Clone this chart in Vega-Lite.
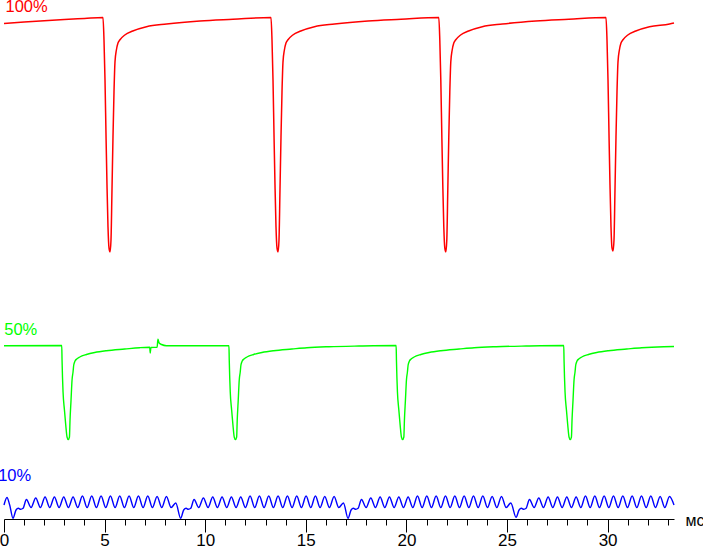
{
  "$schema": "https://vega.github.io/schema/vega-lite/v6.json",
  "width": 670,
  "height": 519,
  "autosize": {"type": "none"},
  "padding": {"left": 4, "top": 0, "right": 29, "bottom": 28},
  "background": "white",
  "config": {"view": {"stroke": null}},
  "resolve": {"axis": {"x": "independent"}},
  "datasets": {
    "red": [
      {"t":0,"v":495.5},{"t":1,"v":497},{"t":2,"v":498.3},{"t":3,"v":499.5},{"t":4,"v":500.5},{"t":4.92,"v":501.5},
      {"t":4.97,"v":479},{"t":5.02,"v":439},{"t":5.07,"v":384},{"t":5.119,"v":334},{"t":5.169,"v":292},{"t":5.218,"v":271},{"t":5.268,"v":267},{"t":5.318,"v":279},{"t":5.367,"v":329},{"t":5.417,"v":382},{"t":5.467,"v":427},{"t":5.516,"v":457},{"t":5.586,"v":469},{"t":5.665,"v":476},{"t":5.754,"v":479},{"t":6.003,"v":484},{"t":6.4,"v":488},{"t":7.08,"v":492.3},{"t":8.08,"v":495},{"t":9.74,"v":498},{"t":11.38,"v":499.7},{"t":13.27,"v":501.5},
      {"t":13.32,"v":479},{"t":13.37,"v":439},{"t":13.42,"v":384},{"t":13.469,"v":334},{"t":13.519,"v":292},{"t":13.568,"v":271},{"t":13.618,"v":267},{"t":13.668,"v":279},{"t":13.717,"v":329},{"t":13.767,"v":382},{"t":13.817,"v":427},{"t":13.866,"v":457},{"t":13.936,"v":469},{"t":14.015,"v":476},{"t":14.104,"v":479},{"t":14.353,"v":484},{"t":14.75,"v":488},{"t":15.43,"v":492.3},{"t":16.43,"v":495},{"t":18.09,"v":498},{"t":19.73,"v":499.7},{"t":21.61,"v":501.5},
      {"t":21.66,"v":479},{"t":21.71,"v":439},{"t":21.76,"v":384},{"t":21.809,"v":334},{"t":21.859,"v":292},{"t":21.908,"v":271},{"t":21.958,"v":267},{"t":22.008,"v":279},{"t":22.057,"v":329},{"t":22.107,"v":382},{"t":22.157,"v":427},{"t":22.206,"v":457},{"t":22.276,"v":469},{"t":22.355,"v":476},{"t":22.444,"v":479},{"t":22.693,"v":484},{"t":23.09,"v":488},{"t":23.77,"v":492.3},{"t":24.77,"v":495},{"t":26.43,"v":498},{"t":28.07,"v":499.7},{"t":29.92,"v":501.5},
      {"t":29.97,"v":479},{"t":30.02,"v":439},{"t":30.07,"v":384},{"t":30.119,"v":334},{"t":30.169,"v":292},{"t":30.218,"v":271},{"t":30.268,"v":268},{"t":30.318,"v":279},{"t":30.367,"v":329},{"t":30.417,"v":382},{"t":30.467,"v":427},{"t":30.516,"v":457},{"t":30.586,"v":469},{"t":30.665,"v":476},{"t":30.754,"v":479},{"t":31.003,"v":484},{"t":31.4,"v":488},{"t":32.08,"v":492.3},{"t":33.08,"v":495},{"t":33.3,"v":496}
    ],
    "green": [
      {"t":0,"v":173.3},{"t":2.87,"v":173.5},
      {"t":2.885,"v":159},{"t":2.935,"v":127},{"t":3.004,"v":109},{"t":3.069,"v":94},{"t":3.133,"v":82},{"t":3.193,"v":79.5},{"t":3.253,"v":82},{"t":3.282,"v":99},{"t":3.332,"v":119},{"t":3.382,"v":139},{"t":3.431,"v":147},{"t":3.466,"v":154},{"t":3.531,"v":158},{"t":3.615,"v":160},{"t":3.764,"v":162},{"t":4.097,"v":164.5},{"t":4.509,"v":166.5},{"t":5.091,"v":168.3},{"t":6.0,"v":170},{"t":6.745,"v":171.3},{"t":7.24,"v":171.7},{"t":7.27,"v":166},{"t":7.3,"v":171.5},{"t":7.61,"v":171.8},{"t":7.65,"v":179.7},{"t":7.71,"v":176},{"t":7.83,"v":174.5},{"t":8.07,"v":173.3},{"t":11.18,"v":173.3},
      {"t":11.195,"v":159},{"t":11.245,"v":127},{"t":11.314,"v":109},{"t":11.379,"v":94},{"t":11.443,"v":82},{"t":11.503,"v":79.5},{"t":11.563,"v":82},{"t":11.592,"v":99},{"t":11.642,"v":119},{"t":11.692,"v":139},{"t":11.741,"v":147},{"t":11.776,"v":154},{"t":11.841,"v":158},{"t":11.925,"v":160},{"t":12.074,"v":162},{"t":12.407,"v":164.5},{"t":12.819,"v":166.5},{"t":13.401,"v":168.3},{"t":14.31,"v":170},{"t":15.055,"v":171.3},{"t":16.15,"v":172.3},{"t":17.64,"v":173},{"t":19.49,"v":173.5},
      {"t":19.505,"v":159},{"t":19.555,"v":127},{"t":19.624,"v":109},{"t":19.689,"v":94},{"t":19.753,"v":82},{"t":19.813,"v":79.5},{"t":19.873,"v":82},{"t":19.902,"v":99},{"t":19.952,"v":119},{"t":20.002,"v":139},{"t":20.051,"v":147},{"t":20.086,"v":154},{"t":20.151,"v":158},{"t":20.235,"v":160},{"t":20.384,"v":162},{"t":20.717,"v":164.5},{"t":21.129,"v":166.5},{"t":21.711,"v":168.3},{"t":22.62,"v":170},{"t":23.365,"v":171.3},{"t":24.46,"v":172.3},{"t":25.95,"v":173},{"t":27.82,"v":173.5},
      {"t":27.835,"v":159},{"t":27.885,"v":127},{"t":27.954,"v":109},{"t":28.019,"v":94},{"t":28.083,"v":82},{"t":28.143,"v":79.5},{"t":28.203,"v":82},{"t":28.232,"v":99},{"t":28.282,"v":119},{"t":28.332,"v":139},{"t":28.381,"v":147},{"t":28.416,"v":154},{"t":28.481,"v":158},{"t":28.565,"v":160},{"t":28.714,"v":162},{"t":29.047,"v":164.5},{"t":29.459,"v":166.5},{"t":30.041,"v":168.3},{"t":30.95,"v":170},{"t":31.695,"v":171.3},{"t":32.79,"v":172.3},{"t":33.3,"v":172.5}
    ],
    "blue": [
      {"t":0,"v":14},{"t":0.149,"v":21.5},{"t":0.283,"v":14},{"t":0.447,"v":0.7},{"t":0.597,"v":9},{"t":0.717,"v":10.7},{"t":0.827,"v":9.7},{"t":0.947,"v":10.7},
      {"t":1.113,"v":19.5},{"t":1.345,"v":11.5},{"t":1.577,"v":21},{"t":1.809,"v":11.5},{"t":2.041,"v":22},{"t":2.273,"v":11.5},{"t":2.505,"v":22},{"t":2.737,"v":11.5},{"t":2.969,"v":22},{"t":3.201,"v":11.5},{"t":3.433,"v":22},{"t":3.665,"v":11.5},{"t":3.897,"v":23},{"t":4.129,"v":11.5},{"t":4.361,"v":23},{"t":4.593,"v":11.5},{"t":4.825,"v":23},{"t":5.057,"v":11.5},{"t":5.289,"v":23},{"t":5.521,"v":11.5},{"t":5.753,"v":23},{"t":5.985,"v":11.5},{"t":6.217,"v":23},{"t":6.449,"v":11.5},{"t":6.681,"v":23},{"t":6.913,"v":11.5},{"t":7.145,"v":23},{"t":7.377,"v":11.5},{"t":7.609,"v":22.5},{"t":7.841,"v":11.5},{"t":8.073,"v":22.5},{"t":8.305,"v":11.5},{"t":8.537,"v":16},
      {"t":8.78,"v":0.7},{"t":8.93,"v":9},{"t":9.05,"v":10.7},{"t":9.16,"v":9.7},{"t":9.28,"v":10.7},
      {"t":9.446,"v":19.5},{"t":9.678,"v":11.5},{"t":9.91,"v":21},{"t":10.142,"v":11.5},{"t":10.374,"v":22},{"t":10.606,"v":11.5},{"t":10.838,"v":22},{"t":11.07,"v":11.5},{"t":11.302,"v":22},{"t":11.534,"v":11.5},{"t":11.766,"v":22},{"t":11.998,"v":11.5},{"t":12.23,"v":23},{"t":12.462,"v":11.5},{"t":12.694,"v":23},{"t":12.926,"v":11.5},{"t":13.158,"v":23},{"t":13.39,"v":11.5},{"t":13.622,"v":23},{"t":13.854,"v":11.5},{"t":14.086,"v":23},{"t":14.318,"v":11.5},{"t":14.55,"v":23},{"t":14.782,"v":11.5},{"t":15.014,"v":23},{"t":15.246,"v":11.5},{"t":15.478,"v":23},{"t":15.71,"v":11.5},{"t":15.942,"v":22.5},{"t":16.174,"v":11.5},{"t":16.406,"v":22.5},{"t":16.638,"v":11.5},{"t":16.87,"v":16},
      {"t":17.1,"v":0.7},{"t":17.25,"v":9},{"t":17.37,"v":10.7},{"t":17.48,"v":9.7},{"t":17.6,"v":10.7},
      {"t":17.766,"v":19.5},{"t":17.998,"v":11.5},{"t":18.23,"v":21},{"t":18.462,"v":11.5},{"t":18.694,"v":22},{"t":18.926,"v":11.5},{"t":19.158,"v":22},{"t":19.39,"v":11.5},{"t":19.622,"v":22},{"t":19.854,"v":11.5},{"t":20.086,"v":22},{"t":20.318,"v":11.5},{"t":20.55,"v":23},{"t":20.782,"v":11.5},{"t":21.014,"v":23},{"t":21.246,"v":11.5},{"t":21.478,"v":23},{"t":21.71,"v":11.5},{"t":21.942,"v":23},{"t":22.174,"v":11.5},{"t":22.406,"v":23},{"t":22.638,"v":11.5},{"t":22.87,"v":23},{"t":23.102,"v":11.5},{"t":23.334,"v":23},{"t":23.566,"v":11.5},{"t":23.798,"v":23},{"t":24.03,"v":11.5},{"t":24.262,"v":22.5},{"t":24.494,"v":11.5},{"t":24.726,"v":22.5},{"t":24.958,"v":11.5},{"t":25.19,"v":16},
      {"t":25.45,"v":1.7},{"t":25.6,"v":9},{"t":25.72,"v":10.7},{"t":25.83,"v":9.7},{"t":25.95,"v":10.7},
      {"t":26.116,"v":19.5},{"t":26.348,"v":11.5},{"t":26.58,"v":21},{"t":26.812,"v":11.5},{"t":27.044,"v":22},{"t":27.276,"v":11.5},{"t":27.508,"v":22},{"t":27.74,"v":11.5},{"t":27.972,"v":22},{"t":28.204,"v":11.5},{"t":28.436,"v":22},{"t":28.668,"v":11.5},{"t":28.9,"v":23},{"t":29.132,"v":11.5},{"t":29.364,"v":23},{"t":29.596,"v":11.5},{"t":29.828,"v":23},{"t":30.06,"v":11.5},{"t":30.292,"v":23},{"t":30.524,"v":11.5},{"t":30.756,"v":23},{"t":30.988,"v":11.5},{"t":31.22,"v":23},{"t":31.452,"v":11.5},{"t":31.684,"v":23},{"t":31.916,"v":11.5},{"t":32.148,"v":23},{"t":32.38,"v":11.5},{"t":32.612,"v":22.5},{"t":32.844,"v":11.5},{"t":33.076,"v":22.5},{"t":33.3,"v":14}
    ],
    "labels": [
      {"series":"100%","t":0.075,"v":507.3},
      {"series":"50%","t":0.01,"v":184},
      {"series":"10%","t":-0.29,"v":38.3}
    ]
  },
  "layer": [
    {
      "data": {"name": "red"},
      "mark": {"type": "line", "color": "#ff0000", "strokeWidth": 1.5, "interpolate": "monotone"},
      "encoding": {
        "x": {"field": "t", "type": "quantitative", "scale": {"domain": [0, 33.3], "nice": false, "zero": false},
          "axis": {
            "orient": "bottom",
            "values": [0, 5, 10, 15, 20, 25, 30],
            "tickSize": 13,
            "labelFont": "Liberation Sans", "labelFontSize": 17, "labelColor": "black", "labelPadding": 0,
            "labelOverlap": false, "labelBound": false, "labelFlush": false,
            "domainColor": "black", "domainWidth": 1, "tickColor": "black", "tickWidth": 1, "grid": false,
            "title": "мс", "titleX": 681, "titleY": 6, "titleAlign": "left", "titleBaseline": "alphabetic",
            "titleFont": "Liberation Sans", "titleFontSize": 16, "titleFontWeight": "normal", "titleColor": "black",
            "titleAngle": 0
          }},
        "y": {"field": "v", "type": "quantitative", "scale": {"domain": [0, 519], "nice": false, "zero": false}, "axis": null}
      }
    },
    {
      "data": {"name": "green"},
      "mark": {"type": "line", "color": "#00ff00", "strokeWidth": 1.4, "interpolate": "monotone"},
      "encoding": {
        "x": {"field": "t", "type": "quantitative",
          "axis": {
            "orient": "bottom",
            "values": [1,2,3,4,6,7,8,9,11,12,13,14,16,17,18,19,21,22,23,24,26,27,28,29,31,32,33],
            "tickSize": 6, "tickColor": "black", "tickWidth": 1,
            "labels": false, "domain": false, "grid": false, "title": null
          }},
        "y": {"field": "v", "type": "quantitative"}
      }
    },
    {
      "data": {"name": "blue"},
      "mark": {"type": "line", "color": "#0000ff", "strokeWidth": 1.4, "interpolate": "monotone"},
      "encoding": {
        "x": {"field": "t", "type": "quantitative", "axis": null},
        "y": {"field": "v", "type": "quantitative"}
      }
    },
    {
      "data": {"name": "labels"},
      "mark": {"type": "text", "align": "left", "baseline": "alphabetic", "font": "Liberation Sans", "fontSize": 16.5},
      "encoding": {
        "x": {"field": "t", "type": "quantitative", "axis": null},
        "y": {"field": "v", "type": "quantitative"},
        "text": {"field": "series"},
        "color": {"field": "series", "type": "nominal", "scale": {"domain": ["100%", "50%", "10%"], "range": ["#ff0000", "#00ff00", "#0000ff"]}, "legend": null}
      }
    }
  ]
}
